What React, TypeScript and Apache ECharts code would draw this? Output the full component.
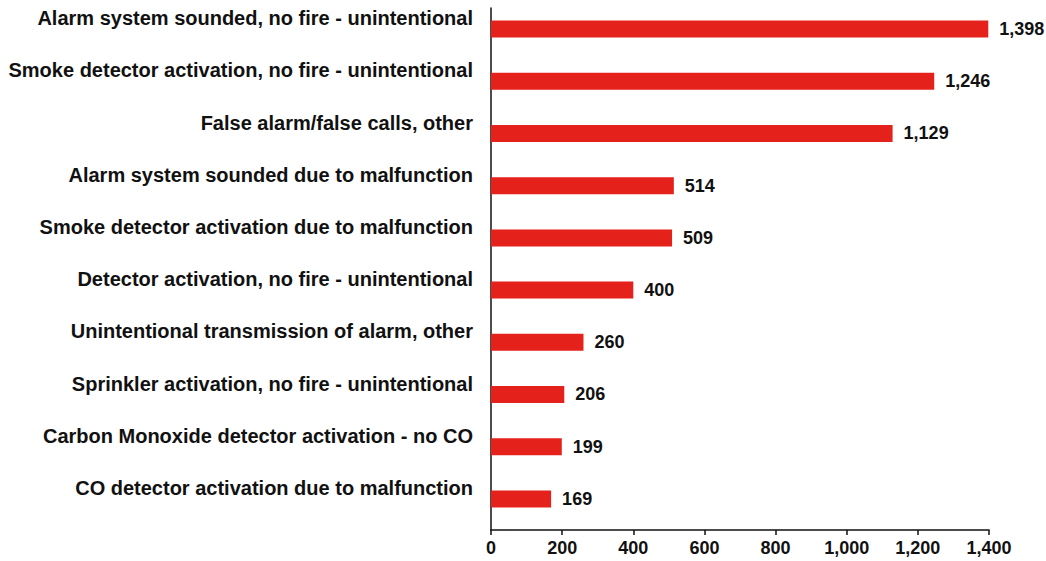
import React, { useEffect, useRef } from "react";
import * as echarts from "echarts";

const categories = [
  "Alarm system sounded, no fire - unintentional",
  "Smoke detector activation, no fire - unintentional",
  "False alarm/false calls, other",
  "Alarm system sounded due to malfunction",
  "Smoke detector activation due to malfunction",
  "Detector activation, no fire - unintentional",
  "Unintentional transmission of alarm, other",
  "Sprinkler activation, no fire - unintentional",
  "Carbon Monoxide detector activation - no CO",
  "CO detector activation due to malfunction",
];
const values = [1398, 1246, 1129, 514, 509, 400, 260, 206, 199, 169];
const xTicks = { min: 0, max: 1400, interval: 200 };

export default function App() {
  const ref = useRef<HTMLDivElement>(null);
  useEffect(() => {
    if (!ref.current) return;
    const chart = echarts.init(ref.current, null, { renderer: "svg" });
    const font = "Liberation Sans, Arial, Helvetica, sans-serif";
    chart.setOption({
      animation: false,
      backgroundColor: "#ffffff",
      grid: { left: 491, right: 57, top: 8, bottom: 31, containLabel: false },
      xAxis: {
        type: "value",
        min: xTicks.min,
        max: xTicks.max,
        interval: xTicks.interval,
        splitLine: { show: false },
        axisLine: { show: true, lineStyle: { color: "#111", width: 1.5 } },
        axisTick: { show: true, length: 5, lineStyle: { color: "#111", width: 1.5 } },
        axisLabel: {
          color: "#111",
          fontFamily: font,
          fontWeight: "bold",
          fontSize: 18,
          margin: 9,
          formatter: (v: number) => v.toLocaleString("en-US"),
        },
      },
      yAxis: {
        type: "category",
        data: categories,
        inverse: true,
        axisLine: { show: true, lineStyle: { color: "#111", width: 1.5 } },
        axisTick: { show: false },
        axisLabel: {
          color: "#111",
          fontFamily: font,
          fontWeight: "bold",
          fontSize: 20,
          margin: 18,
          verticalAlign: "bottom",
          lineHeight: 32,
        },
      },
      series: [
        {
          type: "bar",
          data: values,
          barWidth: 17,
          barGap: "59%",
          itemStyle: { color: "#e5211c" },
          label: {
            show: true,
            position: "right",
            distance: 11,
            color: "#111",
            fontFamily: font,
            fontWeight: "bold",
            fontSize: 18,
            formatter: (p: any) => Number(p.value).toLocaleString("en-US"),
          },
        },
        {
          type: "bar",
          data: [],
          barWidth: 0,
        },
      ],
    });
    return () => chart.dispose();
  }, []);
  return (
    <div
      ref={ref}
      style={{ position: "absolute", left: 0, top: 0, width: 1046, height: 561 }}
    />
  );
}
